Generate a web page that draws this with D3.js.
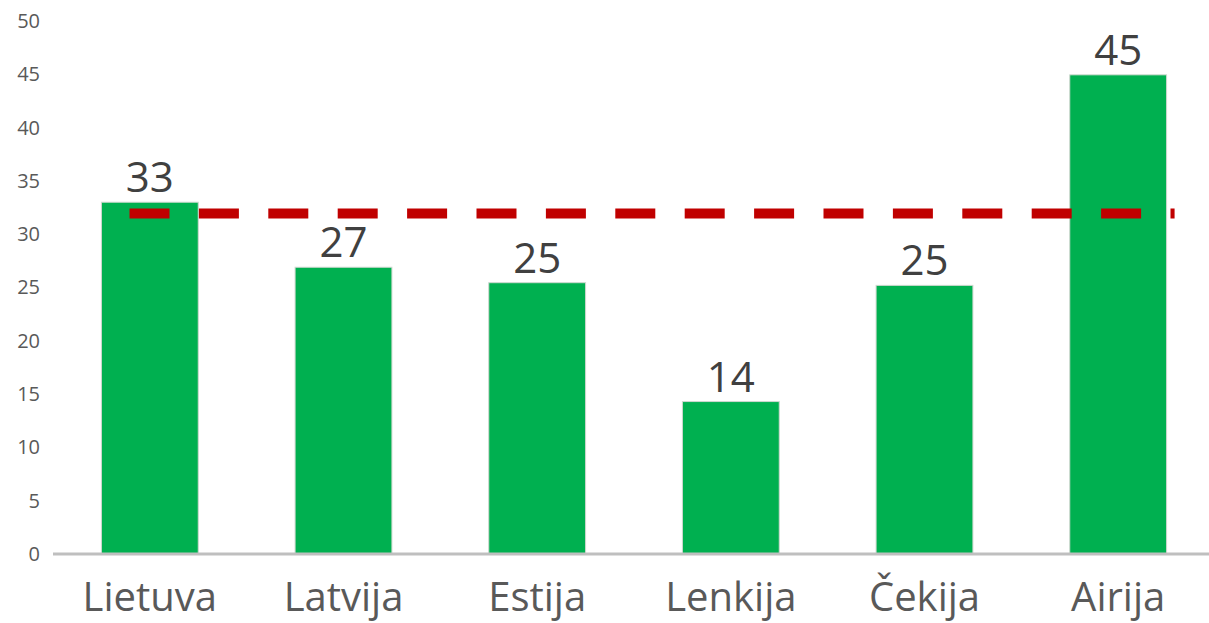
<!DOCTYPE html>
<html>
<head>
<meta charset="utf-8">
<script src="https://cdn.jsdelivr.net/npm/d3@7"></script>
<style>
  html, body { margin: 0; padding: 0; background: #fff; }
  svg { display: block; font-family: "Open Sans", "Noto Sans", sans-serif; }
</style>
</head>
<body>
<svg id="chart" width="1209" height="623"></svg>
<script>
// values
var countries = ["Lietuva", "Latvija", "Estija", "Lenkija", "Čekija", "Airija"];
var values = [33.0, 26.9, 25.45, 14.3, 25.2, 44.95];
var averageValue = 31.95;
var yTicks = [0, 5, 10, 15, 20, 25, 30, 35, 40, 45, 50];

var svg = d3.select("#chart");

var x = d3.scaleBand()
    .domain(countries)
    .range([53, 1215])
    .paddingInner(0.5)
    .paddingOuter(0.25);

var y = d3.scaleLinear()
    .domain([0, 50])
    .range([554, 21]);

// y axis labels only
var yAxis = svg.append("g")
    .attr("transform", "translate(40,0)")
    .call(d3.axisLeft(y).tickValues(yTicks).tickSize(0).tickPadding(0));
yAxis.select(".domain").remove();
yAxis.selectAll("text")
    .attr("fill", "#595959")
    .style("font-size", "20px")
    .style("font-family", "'Open Sans', sans-serif");

// bars
svg.selectAll("rect.bar")
    .data(countries)
    .enter().append("rect")
    .attr("class", "bar")
    .attr("x", function (d) { return x(d); })
    .attr("width", x.bandwidth())
    .attr("y", function (d, i) { return y(values[i]); })
    .attr("height", function (d, i) { return y(0) - y(values[i]); })
    .attr("fill", "#00B050")
    .attr("stroke", "#cfd8d0")
    .attr("stroke-width", 1);

// baseline
svg.append("line")
    .attr("x1", 53)
    .attr("x2", 1209)
    .attr("y1", y(0))
    .attr("y2", y(0))
    .attr("stroke", "#bfbfbf")
    .attr("stroke-width", 3);

// value labels
svg.selectAll("text.val")
    .data(countries)
    .enter().append("text")
    .attr("class", "val")
    .attr("x", function (d) { return x(d) + x.bandwidth() / 2; })
    .attr("y", function (d, i) { return y(values[i]) - 10; })
    .attr("text-anchor", "middle")
    .attr("fill", "#404040")
    .style("font-size", "42px")
    .text(function (d, i) { return d3.format(".0f")(values[i]); });

// category labels
var xAxis = svg.append("g")
    .attr("transform", "translate(0," + y(0) + ")")
    .call(d3.axisBottom(x).tickSize(0));
xAxis.select(".domain").remove();
xAxis.selectAll("text")
    .attr("y", 57)
    .attr("dy", "0")
    .attr("fill", "#595959")
    .style("font-size", "40px")
    .style("font-family", "'Open Sans', sans-serif");

// average line
var first = countries[0], last = countries[countries.length - 1];
svg.append("line")
    .attr("x1", x(first) + x.bandwidth() * 0.29)
    .attr("x2", x(last) + x.bandwidth() + 8)
    .attr("y1", y(averageValue))
    .attr("y2", y(averageValue))
    .attr("stroke", "#C00000")
    .attr("stroke-width", 10)
    .attr("stroke-dasharray", "40,29.4");
</script>
</body>
</html>
